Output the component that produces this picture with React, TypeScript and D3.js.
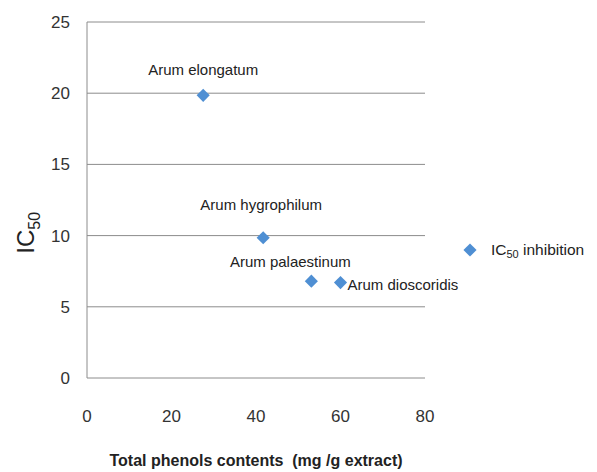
import { useEffect, useRef } from 'react';
import * as d3 from 'd3';

const species = ['Arum elongatum', 'Arum hygrophilum', 'Arum palaestinum', 'Arum dioscoridis'];
const phenols = [27.5, 41.7, 53.1, 60.0];
const ic50 = [19.85, 9.85, 6.8, 6.7];
const xTicks = [0, 20, 40, 60, 80];
const yTicks = [0, 5, 10, 15, 20, 25];

const W = 597;
const H = 472;
const margin = { left: 87, top: 22, right: 172, bottom: 94 };
const font = '"Liberation Sans", sans-serif';
const blue = '#4f8fd3';

// label offsets relative to each point
const labelPos = [
  { dx: 0, dy: -20, anchor: 'middle' },
  { dx: -2, dy: -28, anchor: 'middle' },
  { dx: -21, dy: -14, anchor: 'middle' },
  { dx: 7, dy: 7, anchor: 'start' },
];

export default function App() {
  const ref = useRef<SVGSVGElement | null>(null);

  useEffect(() => {
    if (!ref.current) return;
    const svg = d3.select(ref.current);
    svg.selectAll('*').remove();

    const x = d3.scaleLinear().domain([0, 80]).range([margin.left, W - margin.right]);
    const y = d3.scaleLinear().domain([0, 25]).range([H - margin.bottom, margin.top]);

    // gridlines
    svg
      .append('g')
      .selectAll('line')
      .data(yTicks)
      .enter()
      .append('line')
      .attr('x1', x(0))
      .attr('x2', x(80))
      .attr('y1', (d) => y(d))
      .attr('y2', (d) => y(d))
      .attr('stroke', '#8c8c8c')
      .attr('stroke-width', 1);

    // y axis line
    svg
      .append('line')
      .attr('x1', x(0))
      .attr('x2', x(0))
      .attr('y1', y(0))
      .attr('y2', y(25))
      .attr('stroke', '#8c8c8c');

    // y tick labels
    svg
      .append('g')
      .selectAll('text')
      .data(yTicks)
      .enter()
      .append('text')
      .attr('x', x(0) - 17)
      .attr('y', (d) => y(d) + 6)
      .attr('text-anchor', 'end')
      .attr('font-family', font)
      .attr('font-size', 17)
      .attr('fill', '#333')
      .text((d) => d);

    // x tick labels
    svg
      .append('g')
      .selectAll('text')
      .data(xTicks)
      .enter()
      .append('text')
      .attr('x', (d) => x(d))
      .attr('y', y(0) + 44)
      .attr('text-anchor', 'middle')
      .attr('font-family', font)
      .attr('font-size', 17)
      .attr('fill', '#333')
      .text((d) => d);

    // diamonds
    const diamond = d3.symbol().type(d3.symbolDiamond2).size(110);
    svg
      .append('g')
      .selectAll('path')
      .data(species)
      .enter()
      .append('path')
      .attr('d', diamond)
      .attr('transform', (_d, i) => `translate(${x(phenols[i])},${y(ic50[i])})`)
      .attr('fill', blue);

    // data labels
    svg
      .append('g')
      .selectAll('text')
      .data(species)
      .enter()
      .append('text')
      .attr('x', (_d, i) => x(phenols[i]) + labelPos[i].dx)
      .attr('y', (_d, i) => y(ic50[i]) + labelPos[i].dy)
      .attr('text-anchor', (_d, i) => labelPos[i].anchor)
      .attr('font-family', font)
      .attr('font-size', 15)
      .attr('fill', '#222')
      .text((d) => d);

    // y title
    const yt = svg
      .append('text')
      .attr('transform', `translate(34,${y(10.2)}) rotate(-90)`)
      .attr('text-anchor', 'middle')
      .attr('font-family', font)
      .attr('font-size', 24)
      .attr('fill', '#222');
    yt.append('tspan').text('IC');
    yt.append('tspan').attr('font-size', 16).attr('dy', 6).text('50');

    // x title
    svg
      .append('text')
      .attr('x', 256)
      .attr('y', 466)
      .attr('text-anchor', 'middle')
      .attr('font-family', font)
      .attr('font-weight', 'bold')
      .attr('font-size', 16)
      .attr('fill', '#222')
      .style('white-space', 'pre')
      .text('Total phenols contents  (mg /g extract)');

    // legend
    svg
      .append('path')
      .attr('d', diamond)
      .attr('transform', 'translate(470,250)')
      .attr('fill', blue);
    const lt = svg
      .append('text')
      .attr('x', 491)
      .attr('y', 255)
      .attr('font-family', font)
      .attr('font-size', 15.5)
      .attr('fill', '#222');
    lt.append('tspan').text('IC');
    lt.append('tspan').attr('font-size', 11).attr('dy', 3).text('50');
    lt.append('tspan').attr('dy', -3).text(' inhibition');
  }, []);

  return (
    <svg
      ref={ref}
      width={W}
      height={H}
      style={{ position: 'absolute', left: 0, top: 0, background: '#fff' }}
    />
  );
}
